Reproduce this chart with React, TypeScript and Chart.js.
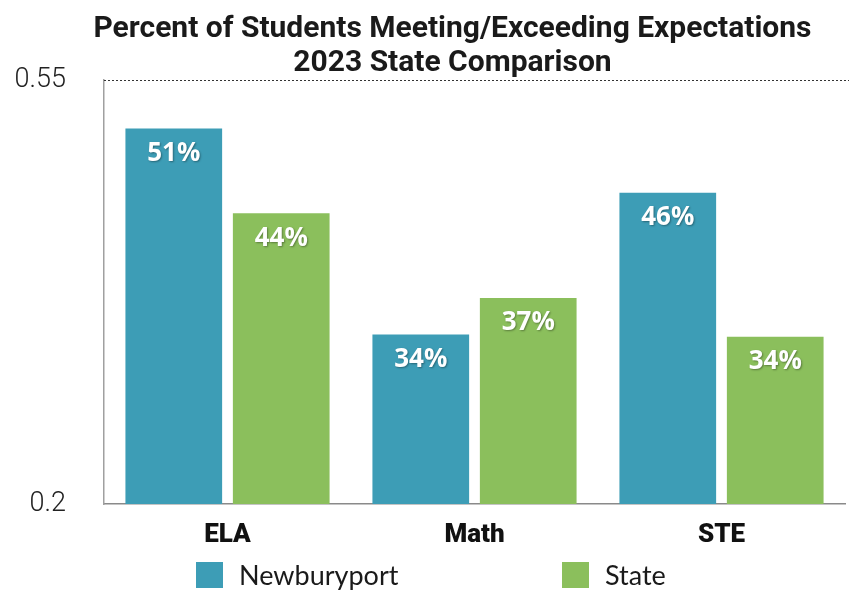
import React, { useEffect, useRef } from "react";
import { Chart, registerables } from "chart.js";

Chart.register(...registerables);

const categories = ["ELA", "Math", "STE"];
const newburyport = [0.51, 0.34, 0.457];
const state = [0.44, 0.37, 0.338];
const valueLabelsNewburyport = ["51%", "34%", "46%"];
const valueLabelsState = ["44%", "37%", "34%"];
const yTicks = [0.2, 0.55];
const titleLines = ["Percent of Students Meeting/Exceeding Expectations", "2023 State Comparison"];
const seriesNames = ["Newburyport", "State"];

const TEAL = "#3d9db6";
const GREEN = "#8bbf5c";

const overlayPlugin = {
  id: "overlay",
  afterDatasetsDraw(chart: any) {
    const ctx = chart.ctx;
    const area = chart.chartArea;
    const y = chart.scales.y;

    // title (centered slightly right of canvas centre, as in the reference)
    ctx.save();
    ctx.font = "bold 30px Roboto";
    ctx.fillStyle = "#1a1a1a";
    ctx.textAlign = "center";
    ctx.textBaseline = "middle";
    const tx = (area.left + area.right) / 2 - 22;
    ctx.fillText(titleLines[0], tx, 29);
    ctx.fillText(titleLines[1], tx, 63);
    ctx.restore();

    // dotted line at top value
    ctx.save();
    ctx.strokeStyle = "#333";
    ctx.lineWidth = 1.2;
    ctx.setLineDash([2, 2]);
    const ty = Math.round(y.getPixelForValue(yTicks[1])) + 0.5;
    ctx.beginPath();
    ctx.moveTo(area.left, ty);
    ctx.lineTo(chart.width, ty);
    ctx.stroke();
    ctx.restore();

    // value labels
    const labelSets = [valueLabelsNewburyport, valueLabelsState];
    chart.data.datasets.forEach((ds: any, di: number) => {
      const meta = chart.getDatasetMeta(di);
      meta.data.forEach((bar: any, i: number) => {
        ctx.save();
        ctx.font = "bold 26px 'Open Sans'";
        ctx.fillStyle = "#ffffff";
        ctx.textAlign = "center";
        ctx.textBaseline = "middle";
        ctx.shadowColor = "rgba(0,0,0,0.35)";
        ctx.shadowBlur = 2;
        ctx.shadowOffsetX = 1;
        ctx.shadowOffsetY = 1;
        ctx.fillText(labelSets[di][i], bar.x, bar.y + 25);
        ctx.restore();
      });
    });

    // legend
    const colors = [TEAL, GREEN];
    const boxX = [area.left + 92, area.left + 458];
    const ly = 575;
    ctx.save();
    ctx.font = "27px Lato";
    ctx.textBaseline = "middle";
    ctx.textAlign = "left";
    seriesNames.forEach((name, i) => {
      ctx.fillStyle = colors[i];
      ctx.fillRect(boxX[i], ly - 13, 27, 26);
      ctx.fillStyle = "#1a1a1a";
      ctx.fillText(name, boxX[i] + 43, ly + 1);
    });
    ctx.restore();
  },
};

export default function App() {
  const ref = useRef<HTMLCanvasElement | null>(null);
  useEffect(() => {
    if (!ref.current) return;
    const chart = new Chart(ref.current, {
      type: "bar",
      data: {
        labels: categories,
        datasets: [
          { label: seriesNames[0], data: newburyport, backgroundColor: TEAL, borderWidth: 0 },
          { label: seriesNames[1], data: state, backgroundColor: GREEN, borderWidth: 0 },
        ],
      },
      options: {
        animation: false,
        responsive: true,
        maintainAspectRatio: false,
        layout: { padding: { left: 0, right: 4, top: 80, bottom: 38 } },
        datasets: { bar: { categoryPercentage: 0.87, barPercentage: 0.9 } },
        scales: {
          x: {
            grid: { display: false, drawTicks: false },
            border: { display: true, color: "#8a8a8a", width: 1.5 },
            ticks: {
              color: "#111",
              font: { family: "Roboto", size: 26, weight: "900" },
              padding: 16,
            },
            afterFit: (s: any) => {
              s.height = 50;
            },
          },
          y: {
            min: yTicks[0],
            max: yTicks[1],
            grid: { display: false, drawTicks: false },
            border: { display: true, color: "#a0a0a0", width: 1.5 },
            afterBuildTicks: (s: any) => {
              s.ticks = yTicks.map((v) => ({ value: v }));
            },
            ticks: {
              color: "#222",
              font: { family: "Roboto", size: 27, weight: "300" },
              padding: 38,
              callback: (v: any) => String(v),
            },
            afterFit: (s: any) => {
              s.width = 104;
            },
          },
        },
        plugins: {
          legend: { display: false },
          tooltip: { enabled: false },
          title: { display: false },
        },
      },
      plugins: [overlayPlugin],
    });
    return () => chart.destroy();
  }, []);
  return (
    <div style={{ position: "fixed", left: 0, top: 0, width: 849, height: 592, background: "#fff" }}>
      <canvas ref={ref} />
    </div>
  );
}
